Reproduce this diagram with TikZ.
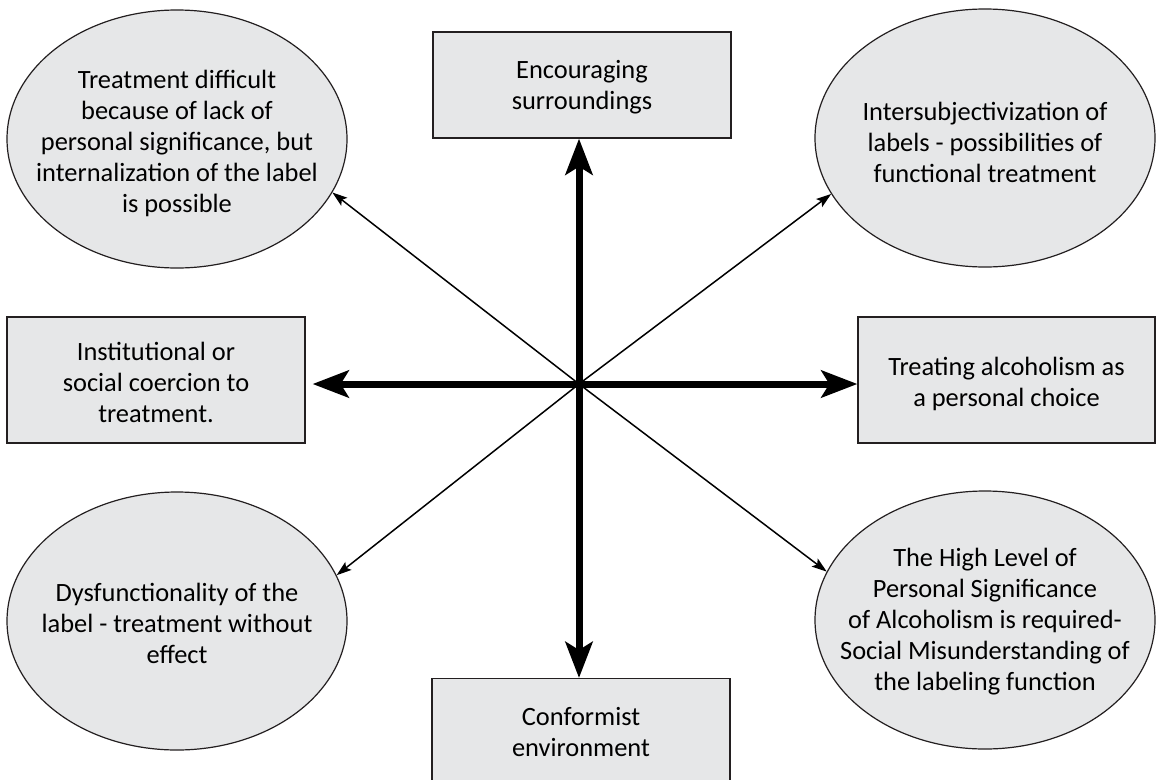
\documentclass[tikz,border=0pt]{standalone}
\usepackage{fontspec}
\setmainfont{Carlito}
\usetikzlibrary{arrows.meta,shapes.geometric}
\definecolor{fillg}{HTML}{E6E7E8}
\definecolor{edgec}{HTML}{231F20}
\begin{document}
\begin{tikzpicture}[x=1pt,y=-1pt,
  shapebox/.style={draw=edgec, fill=fillg, line width=1.2pt, rectangle, inner sep=0pt, minimum width=298pt},
  ell/.style={draw=edgec, fill=fillg, line width=1.2pt, ellipse, inner sep=0pt, minimum width=340pt, minimum height=258pt},
  txt/.style={align=center, font=\fontsize{26.4}{31}\selectfont, text=black, inner sep=0pt},
  boxtxt/.style={txt, yshift=-2.5pt},
  elltxt/.style={txt, yshift=-4pt},
  bigarrow/.style={line width=7pt, -{Stealth[length=36pt,width=27pt,inset=8pt]}},
  thinarrow/.style={line width=1.5pt, -{Stealth[length=15pt,width=10pt,inset=3pt]}}]
\useasboundingbox (0,0) rectangle (1156,779);
\clip (0,0) rectangle (1156,779);
\fill[white] (0,0) rectangle (1156,779);

\coordinate (c) at (579,384);

% boxes
\node[shapebox, minimum height=106pt, label={[boxtxt]center:{Encouraging\\surroundings}}] (top) at (582,85) {};
\node[shapebox, minimum height=126pt, label={[boxtxt]center:{Institutional or\\social coercion to\\treatment.}}] (lft) at (156,380) {};
\node[shapebox, minimum width=297pt, minimum height=126pt, label={[txt, yshift=-3.5pt]center:{Treating alcoholism as\\a personal choice}}] (rgt) at (1006.5,380) {};
\node[shapebox, minimum height=130pt, anchor=north] (bot) at (581,678) {};
\node[txt] (bottxt) at (581,732.5) {Conformist\\environment};

% ellipses
\node[ell, label={[elltxt]center:{Treatment difficult\\because of lack of\\personal significance, but\\internalization of the label\\is possible}}] (tl) at (177,139) {};
\node[ell, label={[elltxt]center:{Intersubjectivization of\\labels - possibilities of\\functional treatment}}] (tr) at (985,138) {};
\node[ell, label={[txt, yshift=-2pt]center:{Dysfunctionality of the\\label - treatment without\\effect}}] (bl) at (177,621) {};
\node[ell, label={[txt, yshift=-2pt]center:{The High Level of\\Personal Significance\\of Alcoholism is required-\\Social Misunderstanding of\\the labeling function}}] (br) at (985,620) {};

% thick arrows
\draw[bigarrow] (c) -- (c |- top.south);
\draw[bigarrow] (c) -- (c |- bot.north);
\draw[bigarrow, shorten >=7pt] (c) -- (c -| lft.east);
\draw[bigarrow] (c) -- (c -| rgt.west);

% thin arrows
\draw[thinarrow] (c) -- (tl.-19);
\draw[thinarrow] (c) -- (tr.200);
\draw[thinarrow] (c) -- (bl.16);
\draw[thinarrow] (c) -- (br.163);
\end{tikzpicture}
\end{document}
